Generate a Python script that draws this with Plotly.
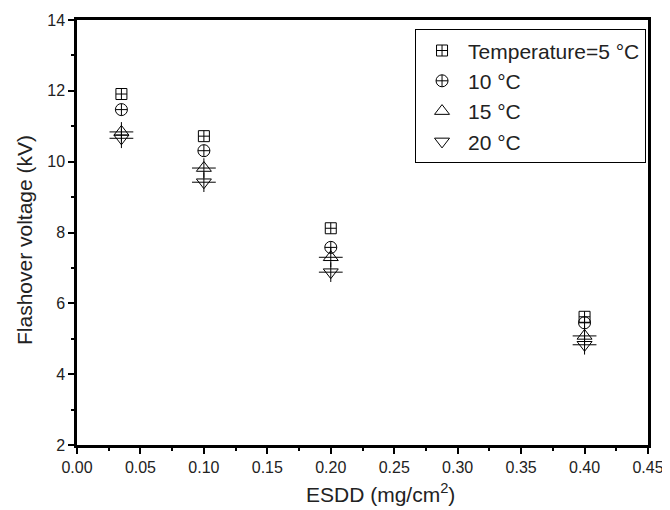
import plotly.graph_objects as go

esdd = [0.035, 0.1, 0.2, 0.4]
v5 = [11.91, 10.72, 8.12, 5.62]
v10 = [11.47, 10.31, 7.58, 5.45]
v15 = [10.84, 9.82, 7.30, 5.08]
v20 = [10.66, 9.42, 6.88, 4.83]

series = [
    ("Temperature=5 °C", v5, "square-cross-open", 11),
    ("10 °C", v10, "circle-cross-open", 12),
    ("15 °C", v15, "triangle-up-open", 13),
    ("20 °C", v20, "triangle-down-open", 13),
]

x_title = "ESDD (mg/cm<sup>2</sup>)"
y_title = "Flashover voltage (kV)"

FONT = "Liberation Sans, Arial"

fig = go.Figure()
for name, vals, sym, sz in series:
    fig.add_trace(go.Scatter(
        x=esdd, y=vals, mode="markers", name=name,
        marker=dict(symbol=sym, size=sz, color="black", line=dict(width=1, color="black")),
    ))
for name, vals, sym, sz in series:
    if "triangle" in sym:
        fig.add_trace(go.Scatter(
            x=esdd, y=vals, mode="markers", showlegend=False, hoverinfo="skip",
            marker=dict(symbol="line-ew-open", size=17, color="black", line=dict(width=1, color="black")),
        ))
        fig.add_trace(go.Scatter(
            x=esdd, y=vals, mode="markers", showlegend=False, hoverinfo="skip",
            marker=dict(symbol="line-ns-open", size=14, color="black", line=dict(width=1, color="black")),
        ))

axis_common = dict(
    showline=True, linewidth=2.5, linecolor="black", mirror=True,
    ticks="outside", ticklen=6, tickwidth=2, tickcolor="black",
    showgrid=False, zeroline=False, automargin=False,
    tickfont=dict(family=FONT, size=16, color="#222"),
)

fig.update_xaxes(
    range=[0, 0.45], tickvals=[0, 0.05, 0.1, 0.15, 0.2, 0.25, 0.3, 0.35, 0.4, 0.45],
    tickformat=".2f",
    minor=dict(ticks="outside", ticklen=3, tickwidth=2, tickcolor="black", dtick=0.025, tick0=0),
    **axis_common,
)
fig.update_yaxes(
    range=[2, 14], tickvals=[2, 4, 6, 8, 10, 12, 14],
    minor=dict(ticks="outside", ticklen=3, tickwidth=2, tickcolor="black", dtick=1, tick0=0),
    **axis_common,
)

fig.add_annotation(
    text=x_title, xref="paper", yref="paper", x=0.532, y=-0.113,
    xanchor="center", yanchor="middle", showarrow=False,
    font=dict(family=FONT, size=21, color="#222"),
)
fig.add_annotation(
    text=y_title, xref="paper", yref="paper", x=-0.093, y=0.482,
    xanchor="center", yanchor="middle", showarrow=False, textangle=-90,
    font=dict(family=FONT, size=21, color="#222"),
)

fig.update_layout(
    width=662, height=502,
    margin=dict(l=69, r=22, t=12, b=65),
    plot_bgcolor="white", paper_bgcolor="white",
    legend=dict(
        x=0.592, y=0.978, xanchor="left", yanchor="top",
        bgcolor="white", bordercolor="black", borderwidth=1,
        font=dict(family=FONT, size=21, color="#222"),
        itemwidth=42, tracegroupgap=0,
    ),
)

fig.write_html("out.html")
